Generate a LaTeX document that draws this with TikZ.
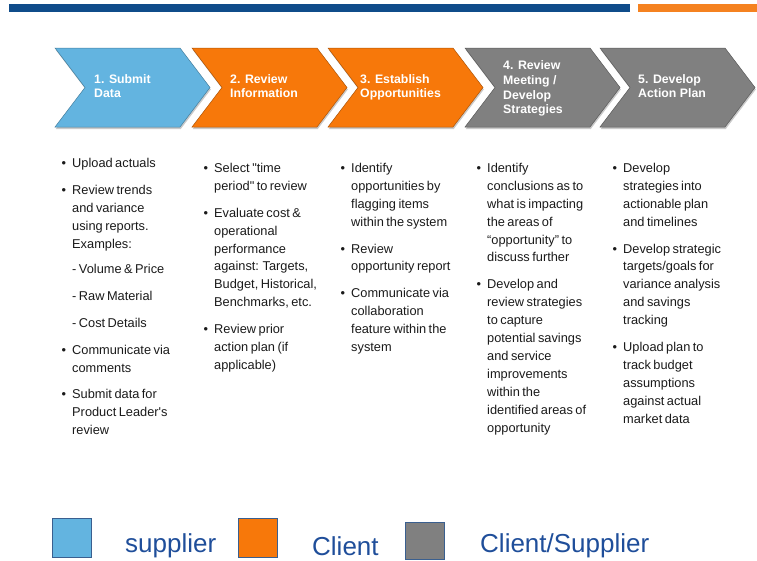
\documentclass[tikz,border=0pt]{standalone}
\usepackage{fontspec}
\setmainfont{Liberation Sans}
\newfontfamily\bodyff[WordSpace=0.7]{Liberation Sans}
\usetikzlibrary{shadows}
\definecolor{cblue}{HTML}{63B4E0}
\definecolor{corange}{HTML}{F7780A}
\definecolor{cgray}{HTML}{808080}
\definecolor{barblue}{HTML}{0F4C8A}
\definecolor{barorange}{HTML}{F58220}
\definecolor{legtext}{HTML}{1F4E9A}
\definecolor{bodytext}{HTML}{1A1A1A}
\definecolor{legedge}{HTML}{3A5F8F}
\newcommand\bodyfont{\bodyff\fontsize{12.8}{17.9}\selectfont}
\newcommand\bul{\llap{\textbullet\hspace{6pt}}}
\tikzset{
  chev/.style={draw=#1!70!black, line width=0.5pt, fill=#1,
    drop shadow={shadow xshift=0.8pt, shadow yshift=-2pt, opacity=0.35, fill=black!60}},
  chevlabel/.style={anchor=north west, inner sep=0pt, align=left, text=white,
    font=\bfseries\fontsize{12.3}{14.6}\selectfont},
  bodycol/.style={anchor=north west, inner sep=0pt, align=left, text=bodytext, font=\bodyfont},
  legsq/.style={draw=legedge, line width=0.9pt, fill=#1},
  legtxt/.style={anchor=base west, inner sep=0pt, text=legtext, font=\fontsize{26}{30}\selectfont},
}
\begin{document}
\begin{tikzpicture}[x=1pt, y=-1pt]
\useasboundingbox (0,0) rectangle (757,560);
% top bars
\fill[barblue] (9,3.5) rectangle (630,11.5);
\fill[barorange] (638,3.5) rectangle (757,11.5);
% chevrons
\foreach \x/\c in {55/cblue,192/corange,328/corange,465/cgray,600/cgray}
  \path[chev=\c] (\x,48) -- ++(125,0) -- ++(30,39.5) -- ++(-30,39.5) -- ++(-125,0) -- ++(30,-39.5) -- cycle;
\node[chevlabel] (h1) at (94,74) {1. Submit\\Data};
\node[chevlabel] (h2) at (230,74) {2. Review\\Information};
\node[chevlabel] (h3) at (360,74) {3. Establish\\Opportunities};
\node[chevlabel] (h4) at (503,60.7) {4. Review\\Meeting /\\Develop\\Strategies};
\node[chevlabel] (h5) at (638,74) {5. Develop\\Action Plan};
% columns
\node[bodycol] (c1) at (72,158) {\bul Upload actuals\\[9pt]
\bul Review trends\\ and variance\\ using reports.\\ Examples:\\[7.5pt]
- Volume \& Price\\[9pt]
- Raw Material\\[9pt]
- Cost Details\\[9pt]
\bul Communicate via\\ comments\\[9pt]
\bul Submit data for\\ Product Leader's\\ review};
\node[bodycol] (c2) at (214,163) {\bul Select "time\\ period" to review\\[9pt]
\bul Evaluate cost \&\\ operational\\ performance\\ against: Targets,\\ Budget, Historical,\\ Benchmarks, etc.\\[9pt]
\bul Review prior\\ action plan (if\\ applicable)};
\node[bodycol] (c3) at (351,163) {\bul Identify\\ opportunities by\\ flagging items\\ within the system\\[9pt]
\bul Review\\ opportunity report\\[9pt]
\bul Communicate via\\ collaboration\\ feature within the\\ system};
\node[bodycol] (c4) at (487,163) {\bul Identify\\ conclusions as to\\ what is impacting\\ the areas of\\ “opportunity” to\\ discuss further\\[9pt]
\bul Develop and\\ review strategies\\ to capture\\ potential savings\\ and service\\ improvements\\ within the\\ identified areas of\\ opportunity};
\node[bodycol] (c5) at (623,163) {\bul Develop\\ strategies into\\ actionable plan\\ and timelines\\[9pt]
\bul Develop strategic\\ targets/goals for\\ variance analysis\\ and savings\\ tracking\\[9pt]
\bul Upload plan to\\ track budget\\ assumptions\\ against actual\\ market data};
% legend
\path[legsq=cblue] (52.7,518) rectangle (91,557);
\path[legsq=corange] (238,518) rectangle (277,557);
\path[legsq=cgray] (405,522) rectangle (444,559.5);
\node[legtxt] (l1) at (125,552) {supplier};
\node[legtxt] (l2) at (312,555) {Client};
\node[legtxt] (l3) at (480,552) {Client/Supplier};
\end{tikzpicture}
\end{document}
